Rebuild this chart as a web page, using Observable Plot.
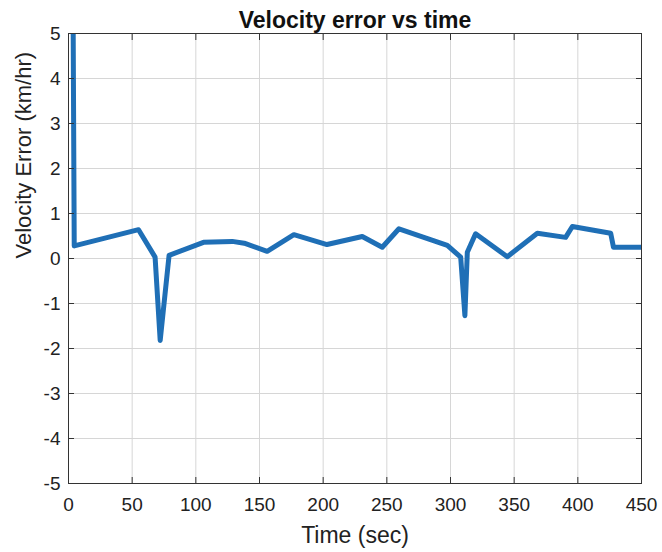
<!DOCTYPE html>
<html>
<head>
<meta charset="utf-8">
<script src="https://cdn.jsdelivr.net/npm/d3@7"></script>
<script src="https://cdn.jsdelivr.net/npm/@observablehq/plot@0.6"></script>
<style>
  html, body { margin: 0; padding: 0; background: #fff; }
  #chart svg { display: block; }
</style>
</head>
<body>
<div id="chart"></div>
<script>
const timeSec = [3, 4.5, 55, 68, 72, 79, 106, 128.6, 138, 156, 177, 203, 230.7, 246.4, 259.5, 297.5, 308, 311.3, 313.2, 319.7, 344.6, 368.2, 390.4, 395.7, 425.8, 428, 450];
const velErr  = [9, 0.28, 0.64, 0.03, -1.82, 0.07, 0.36, 0.38, 0.34, 0.16, 0.53, 0.31, 0.49, 0.25, 0.66, 0.29, 0.03, -1.27, 0.14, 0.55, 0.04, 0.56, 0.47, 0.71, 0.56, 0.25, 0.25];
const xTicks = [0, 50, 100, 150, 200, 250, 300, 350, 400, 450];
const yTicks = [-5, -4, -3, -2, -1, 0, 1, 2, 3, 4, 5];
const title = "Velocity error vs time";
const xLabel = "Time (sec)";
const yLabel = "Velocity Error (km/hr)";

const data = timeSec.map((t, i) => ({t, v: velErr[i]}));
const font = "Liberation Sans, Arial, Helvetica, sans-serif";
const fmt = d => String(d);

const chart = Plot.plot({
  width: 662,
  height: 552,
  marginLeft: 68,
  marginRight: 21,
  marginTop: 33,
  marginBottom: 69,
  style: {fontFamily: font, background: "#fff", color: "#222"},
  x: {domain: [0, 450], ticks: xTicks},
  y: {domain: [-5, 5], ticks: yTicks},
  marks: [
    Plot.gridX(xTicks, {stroke: "#d6d6d6", strokeOpacity: 1, strokeWidth: 1}),
    Plot.gridY(yTicks, {stroke: "#d6d6d6", strokeOpacity: 1, strokeWidth: 1}),
    Plot.line(data, {x: "t", y: "v", stroke: "#1f6fb6", strokeWidth: 5, strokeLinejoin: "round", strokeLinecap: "butt", clip: true}),
    Plot.frame({stroke: "#333", strokeWidth: 1}),
    Plot.axisX(xTicks, {anchor: "bottom", tickSize: -6, tickFormat: () => "", label: null, stroke: "#333"}),
    Plot.axisX(xTicks, {anchor: "top", tickSize: -6, tickFormat: () => "", label: null, stroke: "#333"}),
    Plot.axisY(yTicks, {anchor: "left", tickSize: -6, tickFormat: () => "", label: null, stroke: "#333"}),
    Plot.axisY(yTicks, {anchor: "right", tickSize: -6, tickFormat: () => "", label: null, stroke: "#333"}),
    Plot.axisX(xTicks, {anchor: "bottom", tickSize: 0, tickPadding: 14, fontSize: 19, fill: "#222", label: null, tickFormat: fmt}),
    Plot.axisY(yTicks, {anchor: "left", tickSize: 0, tickPadding: 8, fontSize: 19, fill: "#222", label: null, tickFormat: fmt}),
    Plot.text([xLabel], {frameAnchor: "bottom", dy: 52, fontSize: 23, fill: "#222", lineAnchor: "middle"}),
    Plot.text([yLabel], {frameAnchor: "left", dx: -45, rotate: -90, fontSize: 22, fill: "#222"}),
    Plot.text([title], {frameAnchor: "top", dy: -22, fontSize: 23, fontWeight: "bold", fill: "#111"})
  ]
});
document.getElementById("chart").appendChild(chart);
</script>
</body>
</html>
